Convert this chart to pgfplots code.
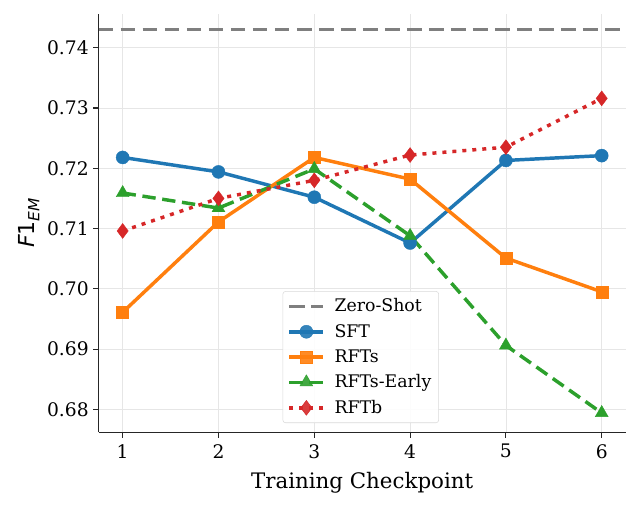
\documentclass[border=0pt]{standalone}
\usepackage{pgfplots}
\pgfplotsset{compat=1.18}
\usepackage{fontspec}
\setmainfont{DejaVu Serif}
\newfontfamily\dvsans{DejaVu Sans}

\definecolor{cBlue}{HTML}{1F77B4}
\definecolor{cOrange}{HTML}{FF7F0E}
\definecolor{cGreen}{HTML}{2CA02C}
\definecolor{cRed}{HTML}{D62728}
\definecolor{cGray}{HTML}{7F7F7F}
\definecolor{gridc}{HTML}{E6E6E6}

\begin{document}
\begin{tikzpicture}
\begin{axis}[
  scale only axis,
  width=395pt, height=313.5pt,
  xmin=0.75, xmax=6.25,
  ymin=0.6762, ymax=0.7456,
  axis x line*=bottom, axis y line*=left,
  axis line style={-, line width=0.9pt, black!85},
  xtick={1,2,3,4,5,6},
  ytick={0.68,0.69,0.70,0.71,0.72,0.73,0.74},
  yticklabel style={/pgf/number format/.cd, fixed, fixed zerofill, precision=2},
  xticklabel style={yshift=-1.5pt},
  /pgf/number format/assume math mode=true,
  tick align=outside,
  major tick length=4pt,
  tick style={line width=0.8pt, black!85},
  tick label style={font=\fontsize{14}{16}\selectfont},
  grid=major,
  major grid style={gridc, line width=0.6pt},
  xlabel={Training Checkpoint},
  xlabel style={font=\fontsize{16}{18}\selectfont, yshift=-3.5pt},
  ylabel={{\dvsans\itshape F}{\dvsans 1}\raisebox{-0.45ex}{\dvsans\itshape\fontsize{11.5}{11.5}\selectfont EM}},
  ylabel style={font=\fontsize{16.5}{18}\selectfont, yshift=-1pt},
  legend cell align=left,
  legend style={at={(0.349,0.022)}, anchor=south west,
    font=\fontsize{13}{15}\selectfont,
    draw=black!15, rounded corners=2pt, fill=white, fill opacity=0.9, text opacity=1,
    row sep=3.8pt, inner sep=3.5pt,
    /tikz/every odd column/.append style={column sep=5pt}},
  legend image code/.code={
    \draw[mark repeat=2, mark phase=2] plot coordinates {(0cm,0cm) (0.45cm,0cm) (0.9cm,0cm)};
  },
]
% zero-shot reference level
\addplot[cGray, line width=2.6pt, dash pattern=on 11pt off 5.5pt] coordinates {(0.75,0.743) (6.25,0.743)};
\addlegendentry{Zero-Shot}

\addplot[cBlue, line width=2.6pt, mark=*, mark size=4.9pt, mark options={solid, line width=0.3pt}] coordinates {
  (1,0.7218) (2,0.7194) (3,0.7152) (4,0.7076) (5,0.7213) (6,0.7221)};
\addlegendentry{SFT}

\addplot[cOrange, line width=2.6pt, mark=square*, mark size=4.5pt, mark options={solid, line width=0.3pt}] coordinates {
  (1,0.6961) (2,0.7111) (3,0.7218) (4,0.7182) (5,0.7051) (6,0.6995)};
\addlegendentry{RFTs}

\addplot[cGreen, line width=2.6pt, dash pattern=on 10pt off 5pt, mark=triangle*, mark size=5.6pt, mark options={solid, line width=0.3pt}] coordinates {
  (1,0.7159) (2,0.7134) (3,0.7199) (4,0.7088) (5,0.6906) (6,0.6794)};
\addlegendentry{RFTs-Early}

\addplot[cRed, line width=2.6pt, dash pattern=on 3pt off 4.5pt, mark=diamond*, mark size=5.6pt, mark options={solid, line width=0.3pt}] coordinates {
  (1,0.7096) (2,0.7150) (3,0.7180) (4,0.7222) (5,0.7235) (6,0.7316)};
\addlegendentry{RFTb}
\end{axis}
\path ([xshift=-74pt,yshift=-55.5pt]current axis.south west) rectangle ([xshift=10pt,yshift=10.5pt]current axis.north east);
\end{tikzpicture}
\end{document}
